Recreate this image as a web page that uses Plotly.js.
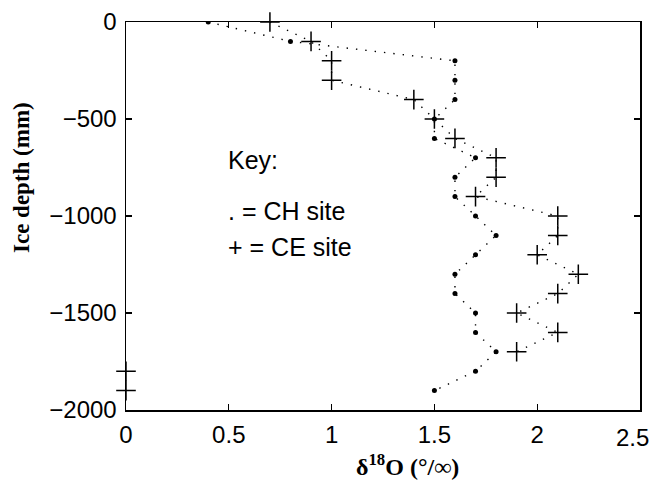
<!DOCTYPE html>
<html>
<head>
<meta charset="utf-8">
<script src="https://cdn.plot.ly/plotly-3.0.1.min.js"></script>
<style>html,body{margin:0;padding:0;background:#fff;}#chart{width:653px;height:491px;}</style>
</head>
<body>
<div id="chart"></div>
<script>
// Ice depth (mm)
const depths = [0, -100, -200, -300, -400, -500, -600, -700, -800, -900, -1000, -1100, -1200, -1300, -1400, -1500, -1600, -1700, -1800, -1900];
// delta 18O, CH site (dots)
const chSite = [0.4, 0.8, 1.6, 1.6, 1.6, 1.5, 1.5, 1.7, 1.6, 1.6, 1.7, 1.8, 1.7, 1.6, 1.6, 1.7, 1.7, 1.8, 1.7, 1.5];
// delta 18O, CE site (plus signs); zeros at the bottom are drawn as marks only
const ceSite = [0.7, 0.9, 1.0, 1.0, 1.4, 1.5, 1.6, 1.8, 1.8, 1.7, 2.1, 2.1, 2.0, 2.2, 2.1, 1.9, 2.1, 1.9, 0, 0];
const xTicks = [0, 0.5, 1, 1.5, 2, 2.5];
const yTicks = [0, -500, -1000, -1500, -2000];
const keyLines = ['Key:', '. = CH site', '+ = CE site'];

const dotLine = {color: '#000', width: 1.4, dash: '1.4px,8px'};
const ceLineX = ceSite.map(v => v === 0 ? null : v);

const traces = [
  {x: chSite, y: depths, mode: 'lines', line: dotLine, hoverinfo: 'skip', showlegend: false},
  {x: ceLineX, y: depths, mode: 'lines', line: dotLine, connectgaps: false, hoverinfo: 'skip', showlegend: false},
  {x: chSite, y: depths, mode: 'markers', name: 'CH site',
   marker: {symbol: 'circle', size: 5, color: '#000'}},
  {x: ceSite, y: depths, mode: 'markers', name: 'CE site', cliponaxis: false,
   marker: {symbol: 'cross-thin-open', size: 14, color: '#000', line: {color: '#000', width: 1.5}}}
];

const sansFamily = 'Liberation Sans, Arial, sans-serif';
const tickFont = {family: sansFamily, size: 24, color: '#000'};
const serifFont = {family: 'Liberation Serif, Times New Roman, serif', size: 23, color: '#000', weight: 'bold'};
const axisCommon = {
  showgrid: false, zeroline: false, showline: true, linecolor: '#000', linewidth: 1.5,
  mirror: 'ticks', ticks: 'inside', ticklen: 6, tickcolor: '#000', tickwidth: 1.2,
  tickfont: tickFont
};

const lastX = xTicks[xTicks.length - 1];

const layout = {
  width: 653, height: 491,
  margin: {l: 126, r: 13, t: 22, b: 81},
  paper_bgcolor: '#fff', plot_bgcolor: '#fff',
  showlegend: false,
  xaxis: Object.assign({}, axisCommon, {
    range: [0, 2.5], tickvals: xTicks,
    ticktext: xTicks.map(v => v === lastX ? '' : String(v)), ticklabelstandoff: 3
  }),
  yaxis: Object.assign({}, axisCommon, {
    range: [-2000, 0], tickvals: yTicks, ticktext: yTicks.map(v => v < 0 ? '\u2212' + Math.abs(v) : String(v)),
    ticklabelstandoff: 3
  }),
  annotations: [
    // last x tick label, kept inside the picture as in the reference
    {xref: 'paper', yref: 'paper', x: (651 - 126) / 514, y: -(437 - 410) / 388, xanchor: 'right', yanchor: 'middle',
     showarrow: false, text: String(lastX), font: tickFont},
    {xref: 'paper', yref: 'paper', x: (407 - 126) / 514, y: -(465 - 410) / 388, yanchor: 'middle', xanchor: 'center', showarrow: false,
     text: '\u03b4<sup>18</sup>O (\u00b0/\u221e)', font: Object.assign({}, serifFont, {size: 24})},
    {xref: 'paper', yref: 'paper', x: -(126 - 21) / 514, y: 1 - (178 - 22) / 388, yanchor: 'middle', xanchor: 'center', showarrow: false,
     textangle: -90, text: 'Ice depth (mm)', font: serifFont}
  ].concat(keyLines.map((t, i) => ({
    xref: 'paper', yref: 'paper', x: (226 - 126) / 514, y: 1 - ([160, 211, 247][i] - 22) / 388,
    xanchor: 'left', yanchor: 'middle', showarrow: false, text: t,
    font: {family: sansFamily, size: 25, color: '#000'}
  })))
};

Plotly.newPlot('chart', traces, layout, {displayModeBar: false, staticPlot: true});
</script>
</body>
</html>
